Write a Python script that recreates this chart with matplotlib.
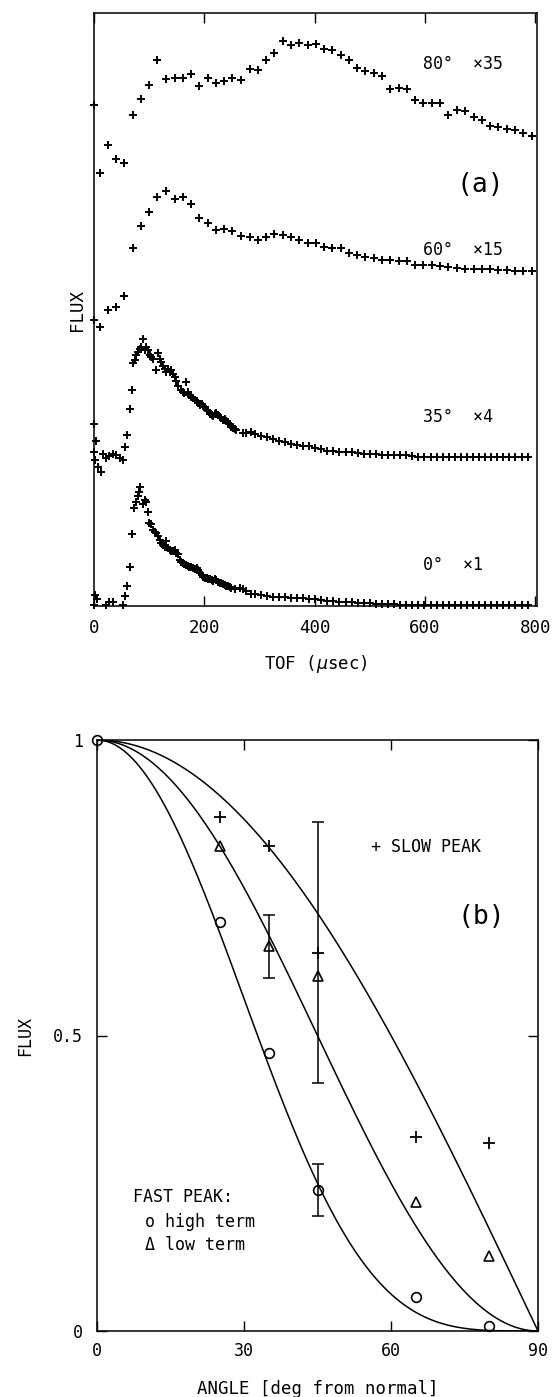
import numpy as np
import matplotlib
matplotlib.use("Agg")
import matplotlib.pyplot as plt

plt.rcParams['font.family'] = ['DejaVu Sans Mono', 'DejaVu Sans']

# ---- panel (a): TOF spectra, scaled and stacked (arbitrary flux units) ----
t_coarse = [0, 10, 25, 40, 55, 70, 85, 100, 115, 131, 146, 161, 176, 191, 206, 221,
            236, 251, 267, 282, 297, 312, 327, 342, 357, 372, 387, 402, 417, 432,
            447, 462, 477, 492, 507, 522, 537, 552, 567, 582, 597, 612, 627, 642,
            658, 673, 688, 703, 718, 733, 748, 763, 778, 794]
flux_80 = [0.845, 0.731, 0.777, 0.753, 0.747, 0.828, 0.855, 0.879, 0.920, 0.888,
           0.891, 0.891, 0.897, 0.877, 0.891, 0.882, 0.885, 0.890, 0.887, 0.905,
           0.904, 0.921, 0.932, 0.952, 0.946, 0.949, 0.946, 0.948, 0.939, 0.938,
           0.929, 0.921, 0.907, 0.903, 0.898, 0.893, 0.871, 0.873, 0.871, 0.853,
           0.849, 0.848, 0.848, 0.828, 0.836, 0.834, 0.825, 0.820, 0.809, 0.808,
           0.805, 0.803, 0.798, 0.793]
flux_60 = [0.482, 0.471, 0.499, 0.505, 0.523, 0.603, 0.640, 0.665, 0.690, 0.700,
           0.686, 0.689, 0.678, 0.654, 0.646, 0.634, 0.635, 0.632, 0.624, 0.623,
           0.618, 0.623, 0.628, 0.626, 0.623, 0.617, 0.612, 0.612, 0.606, 0.604,
           0.603, 0.595, 0.592, 0.589, 0.587, 0.583, 0.583, 0.582, 0.582, 0.575,
           0.575, 0.575, 0.573, 0.572, 0.570, 0.569, 0.569, 0.568, 0.568, 0.567,
           0.567, 0.565, 0.565, 0.565]

t_35 = [0, 4, 0, 1, 7, 13, 16, 22, 28, 34, 40, 47, 53, 56, 60, 65, 68, 71, 74, 77,
        80, 83, 86, 89, 92, 95, 98, 101, 104, 107, 113, 116, 119, 122, 125, 128,
        131, 134, 137, 140, 143, 146, 149, 152, 158, 161, 164, 167, 170, 173, 176,
        180, 183, 186, 189, 192, 195, 198, 201, 204, 207, 210, 213, 216, 219, 222,
        225, 228, 231, 234, 237, 240, 243, 246, 249, 252, 255, 258, 270, 276, 285,
        291, 302, 313, 324, 335, 346, 357, 368, 379, 390, 401, 412, 423, 434, 445,
        456, 467, 478, 489, 500, 511, 522, 533, 544, 555, 566, 577, 588, 599, 610,
        621, 632, 643, 654, 665, 676, 687, 698, 709, 720, 731, 742, 753, 764, 775,
        786]
flux_35 = [0.307, 0.279, 0.260, 0.246, 0.235, 0.226, 0.257, 0.249, 0.253, 0.256,
           0.255, 0.249, 0.246, 0.268, 0.288, 0.332, 0.365, 0.409, 0.415, 0.423,
           0.429, 0.433, 0.437, 0.451, 0.432, 0.437, 0.431, 0.423, 0.420, 0.416,
           0.398, 0.427, 0.416, 0.412, 0.405, 0.399, 0.395, 0.399, 0.395, 0.398,
           0.392, 0.387, 0.380, 0.371, 0.365, 0.361, 0.359, 0.378, 0.361, 0.356,
           0.353, 0.350, 0.347, 0.345, 0.342, 0.339, 0.341, 0.337, 0.335, 0.331,
           0.328, 0.324, 0.322, 0.320, 0.324, 0.325, 0.322, 0.318, 0.317, 0.314,
           0.315, 0.312, 0.309, 0.307, 0.302, 0.300, 0.298, 0.297, 0.292, 0.291,
           0.294, 0.290, 0.287, 0.285, 0.282, 0.279, 0.276, 0.274, 0.272, 0.270,
           0.269, 0.267, 0.265, 0.262, 0.261, 0.260, 0.259, 0.259, 0.258, 0.257,
           0.256, 0.256, 0.255, 0.255, 0.255, 0.255, 0.254, 0.253, 0.252, 0.252,
           0.252, 0.251, 0.251, 0.251, 0.251, 0.251, 0.251, 0.251, 0.251, 0.251,
           0.251, 0.251, 0.251, 0.251, 0.251, 0.251, 0.251]

t_0 = [0, 2, 5, 22, 28, 34, 53, 57, 60, 65, 68, 73, 76, 79, 81, 84, 89, 92, 95, 97,
       100, 103, 107, 110, 113, 116, 119, 122, 125, 128, 131, 134, 137, 140, 143,
       146, 149, 152, 155, 158, 161, 164, 167, 170, 173, 176, 180, 183, 186, 189,
       192, 195, 198, 201, 204, 207, 210, 213, 216, 219, 222, 225, 228, 231, 234,
       237, 240, 243, 246, 249, 255, 264, 270, 276, 285, 291, 302, 313, 324, 335,
       346, 357, 368, 379, 390, 401, 412, 423, 434, 445, 456, 467, 478, 489, 500,
       511, 522, 533, 544, 555, 566, 577, 588, 599, 610, 621, 632, 643, 654, 665,
       676, 687, 698, 709, 720, 731, 742, 753, 764, 775, 786]
flux_0 = [0.002, 0.019, 0.012, 0.002, 0.006, 0.007, 0.002, 0.017, 0.034, 0.065,
          0.121, 0.166, 0.176, 0.185, 0.193, 0.201, 0.172, 0.178, 0.176, 0.158,
          0.140, 0.138, 0.129, 0.125, 0.123, 0.118, 0.112, 0.106, 0.103, 0.100,
          0.110, 0.097, 0.094, 0.093, 0.092, 0.094, 0.090, 0.088, 0.078, 0.075,
          0.072, 0.071, 0.069, 0.067, 0.066, 0.065, 0.064, 0.062, 0.064, 0.060,
          0.056, 0.052, 0.049, 0.048, 0.047, 0.045, 0.045, 0.044, 0.043, 0.045,
          0.044, 0.041, 0.039, 0.038, 0.037, 0.035, 0.034, 0.033, 0.032, 0.030,
          0.028, 0.030, 0.028, 0.026, 0.021, 0.021, 0.019, 0.017, 0.016, 0.015,
          0.015, 0.014, 0.013, 0.013, 0.012, 0.011, 0.010, 0.009, 0.008, 0.007,
          0.006, 0.006, 0.005, 0.005, 0.005, 0.004, 0.004, 0.003, 0.003, 0.002,
          0.002, 0.002, 0.002, 0.001, 0.001, 0.001, 0.001, 0.001, 0.001, 0.001,
          0.001, 0.001, 0.001, 0.001, 0.001, 0.001, 0.001, 0.001, 0.001, 0.001,
          0.001]

curve_labels = ["80°  ×35", "60°  ×15", "35°  ×4", "0°  ×1"]
label_y = [0.914, 0.600, 0.319, 0.069]

# ---- panel (b): angular distributions ----
ang_slow = [25, 35, 45, 65, 80]
flux_slow = [0.870, 0.821, 0.640, 0.328, 0.318]
ang_high = [0, 25, 35, 45, 65, 80]
flux_high = [1.0, 0.692, 0.471, 0.239, 0.058, 0.009]
ang_low = [25, 35, 45, 65, 80]
flux_low = [0.821, 0.652, 0.600, 0.219, 0.127]
# error bars: (angle, low, high)
err_low = (35, 0.597, 0.704)
err_high = (45, 0.195, 0.283)
err_slow = (45, 0.419, 0.861)
cos_powers = [1, 2, 4]

fig = plt.figure(figsize=(5.55, 13.97), dpi=100)

# ----- top panel -----
ax1 = fig.add_axes([94 / 555, 1 - 606 / 1397, 443 / 555, 593 / 1397])
for t, f in [(t_coarse, flux_80), (t_coarse, flux_60), (t_35, flux_35), (t_0, flux_0)]:
    ax1.plot(t, f, ls='none', marker='+', color='black', ms=5.5, mew=1.4, clip_on=False)
ax1.set_xlim(0, 803)
ax1.set_ylim(0, 1)
ax1.set_xticks([0, 200, 400, 600, 800])
ax1.set_yticks([])
ax1.tick_params(axis='x', direction='in', top=True, length=7, width=1.0,
                labelsize=12.5, pad=9)
for s in ax1.spines.values():
    s.set_linewidth(1.1)
ax1.set_xlabel("TOF ($\\mu$sec)", fontsize=12.5, labelpad=12)
ax1.set_ylabel("FLUX", fontsize=12.5, labelpad=6)
for lab, y in zip(curve_labels, label_y):
    ax1.text(597, y, lab, fontsize=12, va='center', ha='left')
ax1.text(700, 0.71, "(a)", fontsize=19, va='center', ha='center')

# ----- bottom panel -----
ax2 = fig.add_axes([97 / 555, 1 - 1331 / 1397, 441 / 555, 591 / 1397])
theta = np.linspace(0, 90, 300)
for n in cos_powers:
    ax2.plot(theta, np.cos(np.radians(theta)) ** n, color='black', lw=1.1)
ax2.plot(ang_high, flux_high, ls='none', marker='o', ms=7, mfc='none', mec='black',
         mew=1.2, clip_on=False)
ax2.plot(ang_low, flux_low, ls='none', marker='^', ms=7, mfc='none', mec='black',
         mew=1.2, clip_on=False)
ax2.plot(ang_slow, flux_slow, ls='none', marker='+', ms=8, color='black', mew=1.3,
         clip_on=False)
for a, lo, hi in [err_low, err_high, err_slow]:
    ax2.errorbar([a], [(lo + hi) / 2], yerr=[[(hi - lo) / 2], [(hi - lo) / 2]],
                 fmt='none', ecolor='black', elinewidth=1.1, capsize=4, capthick=1.1)
ax2.set_xlim(0, 90)
ax2.set_ylim(0, 1)
ax2.set_xticks([0, 30, 60, 90])
ax2.set_yticks([0, 0.5, 1])
ax2.set_yticklabels(["0", "0.5", "1"])
ax2.tick_params(direction='in', top=True, right=True, length=7, width=1.0,
                labelsize=12)
ax2.tick_params(axis='y', pad=10)
ax2.tick_params(axis='x', pad=8)
for s in ax2.spines.values():
    s.set_linewidth(1.1)
ax2.set_xlabel("ANGLE [deg from normal]", fontsize=12.5, labelpad=14)
ax2.set_ylabel("FLUX", fontsize=12, labelpad=14)
ax2.text(56, 0.819, "+ SLOW PEAK", fontsize=12, va='center', ha='left')
ax2.text(78.5, 0.70, "(b)", fontsize=19, va='center', ha='center')
ax2.text(7.3, 0.227, "FAST PEAK:", fontsize=12, va='center', ha='left')
ax2.text(9.7, 0.184, "o high term", fontsize=12, va='center', ha='left')
ax2.text(9.7, 0.146, "Δ low term", fontsize=12, va='center', ha='left')

fig.savefig("out.png", dpi=100)
